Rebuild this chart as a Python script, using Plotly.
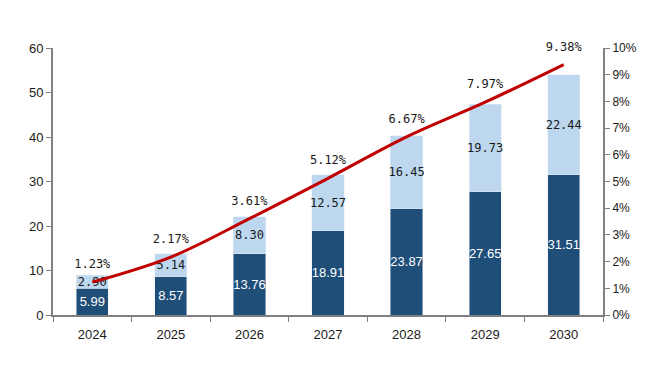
import plotly.graph_objects as go

years = ["2024", "2025", "2026", "2027", "2028", "2029", "2030"]
dark_vals = [5.99, 8.57, 13.76, 18.91, 23.87, 27.65, 31.51]
light_vals = [2.90, 5.14, 8.30, 12.57, 16.45, 19.73, 22.44]
pct_vals = [1.23, 2.17, 3.61, 5.12, 6.67, 7.97, 9.38]

fig = go.Figure()
fig.add_trace(go.Bar(
    x=years, y=dark_vals, marker_color="#1F4E79", width=0.41,
    text=[f"{v:.2f}" for v in dark_vals], textposition="inside",
    insidetextanchor="middle", textangle=0,
    textfont=dict(color="white", size=13, family="Liberation Sans"),
    showlegend=False,
))
fig.add_trace(go.Bar(
    x=years, y=light_vals, marker_color="#BDD7EE", width=0.41,
    text=[f"{v:.2f}" for v in light_vals], textposition="inside",
    insidetextanchor="middle", textangle=0,
    textfont=dict(color="#1a1a1a", size=12, family="DejaVu Sans Mono"),
    showlegend=False,
))
fig.add_trace(go.Scatter(
    x=years, y=pct_vals, yaxis="y2", mode="lines+markers+text",
    line=dict(color="#C00000", width=3, shape="spline"),
    marker=dict(size=16, color="rgba(0,0,0,0)"),
    text=[f"{v:.2f}%" for v in pct_vals], textposition="top center",
    textfont=dict(color="#1a1a1a", size=12, family="DejaVu Sans Mono"),
    showlegend=False, cliponaxis=False,
))

fig.update_layout(
    width=669, height=366,
    margin=dict(l=45, r=74, t=40, b=59, autoexpand=False),
    barmode="stack",
    uniformtext=dict(minsize=12, mode="show"),
    plot_bgcolor="white", paper_bgcolor="white",
    font=dict(family="Liberation Sans, Arial", size=12, color="#1a1a1a"),
    xaxis=dict(type="category", showline=True, linecolor="#808080", linewidth=2,
               ticks="outside", tickson="boundaries", tickcolor="#808080", ticklen=5,
               showgrid=False, tickfont=dict(size=13), automargin=False,
               ticklabelstandoff=6),
    yaxis=dict(range=[0, 60], dtick=10, showline=True, linecolor="#808080", linewidth=2,
               ticks="outside", tickcolor="#808080", ticklen=5, showgrid=False,
               zeroline=False, tickfont=dict(size=13), automargin=False),
    yaxis2=dict(range=[0, 10], dtick=1, overlaying="y", side="right", showline=True,
                linecolor="#808080", linewidth=2, ticks="outside", tickcolor="#808080",
                ticklen=5, showgrid=False, zeroline=False, ticksuffix="%",
                tickfont=dict(size=12), automargin=False),
)

fig.write_html("out.html")
